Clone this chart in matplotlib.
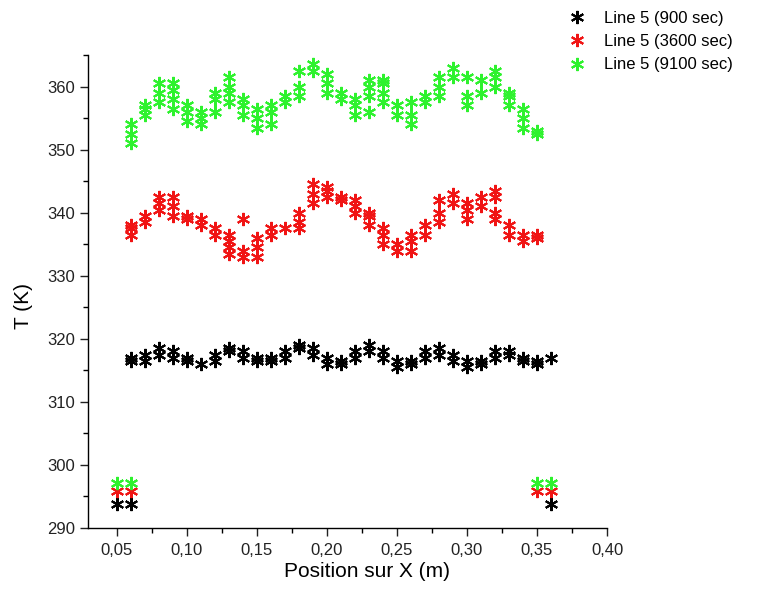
import matplotlib
matplotlib.use("Agg")
import matplotlib.pyplot as plt
from matplotlib.ticker import MultipleLocator, FuncFormatter

plt.rcParams['font.family'] = ['Liberation Sans', 'DejaVu Sans']

# Position sur X (m)
x_black = [0.06, 0.07, 0.08, 0.09, 0.10, 0.11, 0.12, 0.13, 0.14, 0.15, 0.16,
           0.17, 0.18, 0.19, 0.20, 0.21, 0.22, 0.23, 0.24, 0.25, 0.26, 0.27,
           0.28, 0.29, 0.30, 0.31, 0.32, 0.33, 0.34, 0.35, 0.36]
x_main = x_black[:-1]

# Line 5 (900 sec): values at each position
t900 = [[316.5, 317], [316.5, 317.5], [317.5, 318.5], [317, 318], [316.5, 317],
        [316], [316.5, 317.5], [318, 318.5], [317, 318], [316.5, 317],
        [316.5, 317], [317, 318], [318.5, 319], [317.5, 318.5], [316, 317],
        [316, 316.5], [317, 318], [318, 319], [317, 318], [315.5, 316.5],
        [316, 316.5], [317, 318], [317.5, 318.5], [316.5, 317.5], [315.5, 316.5],
        [316, 316.5], [317, 318], [317.5, 318], [316.5, 317], [316, 316.5], [317]]

# Line 5 (3600 sec)
t3600 = [[336.5, 337.5, 338], [338.5, 339.5], [340.5, 341.5, 342.5], [339.5, 341, 342.5],
         [339, 339.5], [338, 339], [336.5, 337.5], [333.5, 334.5, 335.5, 336.5],
         [333, 334, 339], [333, 334.5, 336], [336.5, 337.5], [337.5],
         [337.5, 338.5, 340], [341.5, 343, 344.5], [342.5, 343.5, 344], [342, 342.5],
         [340, 341, 342], [338, 339.5, 340], [335, 336.5, 337.5], [334, 335],
         [334, 335.5, 336.5], [336.5, 338], [338.5, 340, 342], [341.5, 343],
         [339, 340.5, 341.5], [341, 342.5], [339, 340, 342.5, 343.5], [336.5, 338],
         [335.5, 336.5], [336, 336.5]]

# Line 5 (9100 sec)
t9100 = [[351, 352.5, 354], [355.5, 356.5, 357], [357.5, 359, 360.5], [356.5, 358, 359.5, 360.5],
         [354.5, 356, 357], [354, 355, 356], [356, 358, 359], [357.5, 359, 360, 361.5],
         [355.5, 357, 358], [353.5, 355, 356.5], [354, 356, 357], [357.5, 358.5],
         [358.5, 360, 362.5], [362.5, 363.5], [359, 360.5, 362], [358, 359],
         [355.5, 357, 358], [356, 358.5, 360, 361], [357.5, 359, 360.5, 361], [355.5, 357],
         [354, 355.5, 357.5], [357.5, 358.5], [358.5, 360, 361.5], [361.5, 363],
         [357, 358.5, 361.5], [359, 361], [360, 361.5, 362.5], [357, 358.5, 359],
         [353.5, 355, 356.5], [352.5, 353]]

# isolated end points
x_end_black = [0.05, 0.06, 0.36]
t_end_black = [293.8, 293.8, 293.8]
x_end_color = [0.05, 0.06, 0.35, 0.36]
t_end_red = [295.8, 295.8, 295.8, 295.8]
t_end_green = [297.2, 297.2, 297.2, 297.2]

labels = ['Line 5 (900 sec)', 'Line 5 (3600 sec)', 'Line 5 (9100 sec)']
colors = ['#000000', '#f01414', '#2ef22e']


def flatten(xs, groups):
    fx, fy = [], []
    for x, g in zip(xs, groups):
        for v in g:
            fx.append(x)
            fy.append(v)
    return fx, fy


fig = plt.figure(figsize=(7.61, 5.92), dpi=100)
ax = fig.add_axes([88 / 761, 64 / 592, (607 - 88) / 761, (528 - 55) / 592])

star = (6, 2, 0)
ms = 9.5
series = [
    (x_black, t900, x_end_black, t_end_black),
    (x_main, t3600, x_end_color, t_end_red),
    (x_main, t9100, x_end_color, t_end_green),
]
for (xs, grp, xe, te), c, lab in zip(series, colors, labels):
    fx, fy = flatten(xs, grp)
    fx += xe
    fy += te
    ax.plot(fx, fy, linestyle='none', marker=star, markersize=ms,
            markeredgewidth=1.5, color=c, label=lab)

ax.set_xlim(0.0293, 0.40)
ax.set_ylim(290, 365)
ax.xaxis.set_major_locator(MultipleLocator(0.05))
ax.xaxis.set_minor_locator(MultipleLocator(0.025))
ax.yaxis.set_major_locator(MultipleLocator(10))
ax.yaxis.set_minor_locator(MultipleLocator(5))
ax.xaxis.set_major_formatter(FuncFormatter(lambda v, p: ('%.2f' % v).replace('.', ',')))
ax.yaxis.set_major_formatter(FuncFormatter(lambda v, p: '%d' % round(v)))
ax.set_xticks([0.05, 0.10, 0.15, 0.20, 0.25, 0.30, 0.35, 0.40])

for s in ['top', 'right']:
    ax.spines[s].set_visible(False)
for s in ['left', 'bottom']:
    ax.spines[s].set_linewidth(1.0)
ax.tick_params(which='major', direction='out', length=5.5, width=1.0,
               labelsize=12, colors='#222222', labelcolor='#222222')
ax.tick_params(axis='x', which='major', pad=5)
ax.tick_params(axis='y', which='major', pad=4)
ax.tick_params(which='minor', direction='out', length=3.5, width=1.0)

ax.set_xlabel('Position sur X (m)', fontsize=15)
ax.set_ylabel('T (K)', fontsize=15)
ax.xaxis.set_label_coords((367 - 88) / 519, -0.072)
ax.yaxis.set_label_coords(-0.106, 0.47)

leg = ax.legend(loc='upper left', bbox_to_anchor=(557 / 761, 1 + 1 / 592),
                bbox_transform=fig.transFigure, frameon=False, fontsize=12,
                handlelength=1.0, handletextpad=1.1, labelspacing=0.5,
                borderpad=0.2, numpoints=1)

fig.savefig('out.png', dpi=100)
